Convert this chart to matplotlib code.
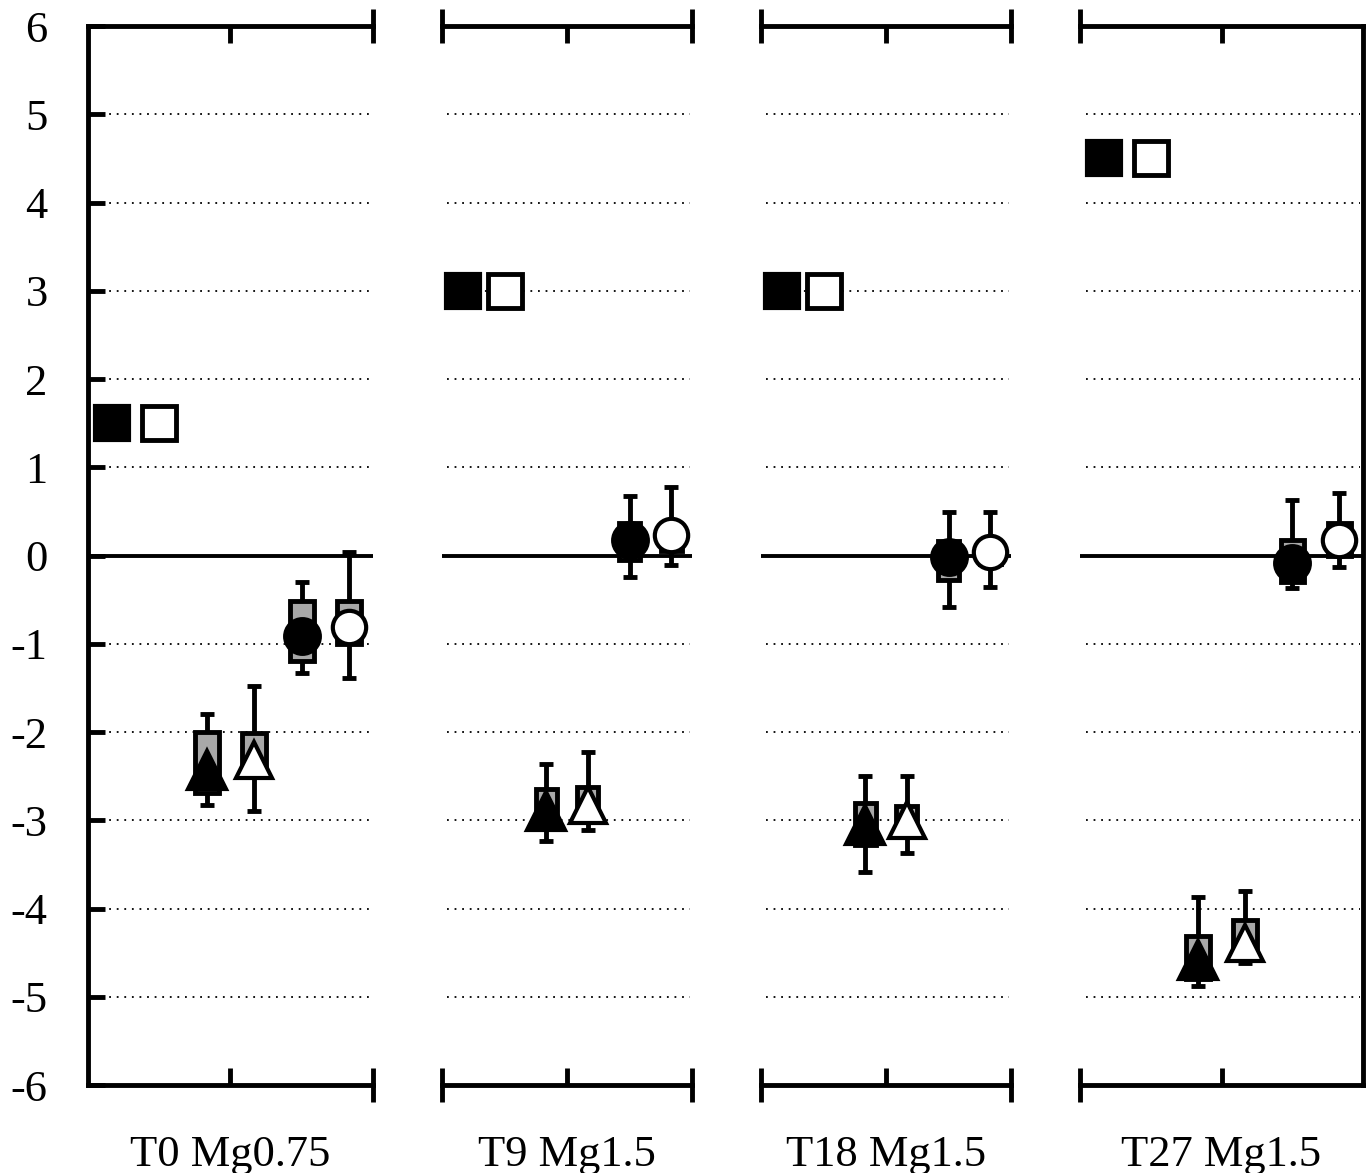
import matplotlib
matplotlib.use("Agg")
import matplotlib.pyplot as plt
from matplotlib.ticker import FixedLocator

plt.rcParams["font.family"] = ["Liberation Serif", "DejaVu Serif"]
plt.rcParams["axes.unicode_minus"] = False

# conditions (one panel each)
panels = ["T0 Mg0.75", "T9 Mg1.5", "T18 Mg1.5", "T27 Mg1.5"]

# reference squares
sq_filled = [1.5, 3.0, 3.0, 4.5]
sq_open = [1.5, 3.0, 3.0, 4.5]

# filled triangles: marker, box (lo, hi), whiskers (lo, hi)
tri_f_mark = [-2.43, -2.90, -3.05, -4.58]
tri_f_box_lo = [-2.69, -3.00, -3.28, -4.80]
tri_f_box_hi = [-2.00, -2.64, -2.80, -4.31]
tri_f_wlo = [-2.83, -3.24, -3.59, -4.88]
tri_f_whi = [-1.80, -2.36, -2.50, -3.87]

# open triangles
tri_o_mark = [-2.32, -2.83, -3.00, -4.39]
tri_o_box_lo = [-2.50, -2.95, -3.15, -4.55]
tri_o_box_hi = [-2.01, -2.62, -2.84, -4.13]
tri_o_wlo = [-2.90, -3.11, -3.37, -4.62]
tri_o_whi = [-1.48, -2.23, -2.50, -3.80]

# filled circles
cir_f_mark = [-0.91, 0.18, -0.02, -0.08]
cir_f_box_lo = [-1.20, -0.05, -0.28, -0.30]
cir_f_box_hi = [-0.51, 0.37, 0.17, 0.18]
cir_f_wlo = [-1.33, -0.24, -0.58, -0.37]
cir_f_whi = [-0.30, 0.67, 0.49, 0.63]

# open circles
cir_o_mark = [-0.81, 0.23, 0.04, 0.18]
cir_o_box_lo = [-1.00, 0.05, -0.10, 0.00]
cir_o_box_hi = [-0.51, 0.35, 0.15, 0.37]
cir_o_wlo = [-1.39, -0.11, -0.36, -0.13]
cir_o_whi = [0.04, 0.78, 0.49, 0.71]

y_ticks = list(range(-6, 7))
grid_levels = [-5, -4, -3, -2, -1, 1, 2, 3, 4, 5]

LW = 3.5
fig = plt.figure(figsize=(13.72, 11.73), dpi=100)

# axes rectangles in figure fractions
rects = [
    [0.0641, 0.0750, 0.2077, 0.9028],
    [0.3222, 0.0750, 0.1822, 0.9028],
    [0.5547, 0.0750, 0.1822, 0.9028],
    [0.7872, 0.0750, 0.2063, 0.9028],
]


def box_series(ax, x, mark, lo, hi, wlo, whi, marker, filled, ms):
    ax.errorbar([x], [mark], yerr=[[mark - wlo], [whi - mark]], fmt="none",
                ecolor="black", elinewidth=LW, capsize=5, capthick=LW, zorder=3)
    ax.bar([x], [hi - lo], bottom=[lo], width=0.5, color="#a8a8a8",
           edgecolor="black", linewidth=LW, zorder=4)
    ax.plot([x], [mark], marker=marker, ms=ms, mew=3,
            mfc="black" if filled else "white", mec="black", ls="none", zorder=5)


for i, name in enumerate(panels):
    ax = fig.add_axes(rects[i])
    ax.set_xlim(0, 6)
    ax.set_ylim(-6, 6)

    for lvl in grid_levels:
        ax.axhline(lvl, xmin=0.02, xmax=0.99, color="black", lw=1.3,
                   ls=(0, (1, 3.2)), zorder=1)
    ax.axhline(0, color="black", lw=2.8, zorder=2)

    ax.plot([0.5], [sq_filled[i]], marker="s", ms=25, mew=3, mfc="black",
            mec="black", ls="none", zorder=5)
    ax.plot([1.5], [sq_open[i]], marker="s", ms=24, mew=3.5, mfc="white",
            mec="black", ls="none", zorder=5)

    box_series(ax, 2.5, tri_f_mark[i], tri_f_box_lo[i], tri_f_box_hi[i],
               tri_f_wlo[i], tri_f_whi[i], "^", True, 27)
    box_series(ax, 3.5, tri_o_mark[i], tri_o_box_lo[i], tri_o_box_hi[i],
               tri_o_wlo[i], tri_o_whi[i], "^", False, 26)
    box_series(ax, 4.5, cir_f_mark[i], cir_f_box_lo[i], cir_f_box_hi[i],
               cir_f_wlo[i], cir_f_whi[i], "o", True, 25)
    box_series(ax, 5.5, cir_o_mark[i], cir_o_box_lo[i], cir_o_box_hi[i],
               cir_o_wlo[i], cir_o_whi[i], "o", False, 24)

    for s in ax.spines.values():
        s.set_linewidth(LW)
    ax.spines["left"].set_visible(i == 0)
    ax.spines["right"].set_visible(i == len(panels) - 1)

    # end caps on the x axis lines, plus a middle tick
    ends = []
    if i != 0:
        ends.append(0)
    if i != len(panels) - 1:
        ends.append(6)
    ax.xaxis.set_major_locator(FixedLocator(ends))
    ax.xaxis.set_minor_locator(FixedLocator([3]))
    ax.tick_params(axis="x", which="major", direction="inout", length=24.5,
                   width=LW, top=True, bottom=True, labelbottom=False)
    ax.tick_params(axis="x", which="minor", direction="in", length=12,
                   width=LW, top=True, bottom=True, labelbottom=False)
    ax.set_xlabel(name, fontsize=32, labelpad=24)

    if i == 0:
        ax.set_yticks(y_ticks)
        ax.tick_params(axis="y", direction="in", length=12, width=LW,
                       labelsize=32, pad=29)
    else:
        ax.set_yticks([])

fig.savefig("out.png", dpi=100)
